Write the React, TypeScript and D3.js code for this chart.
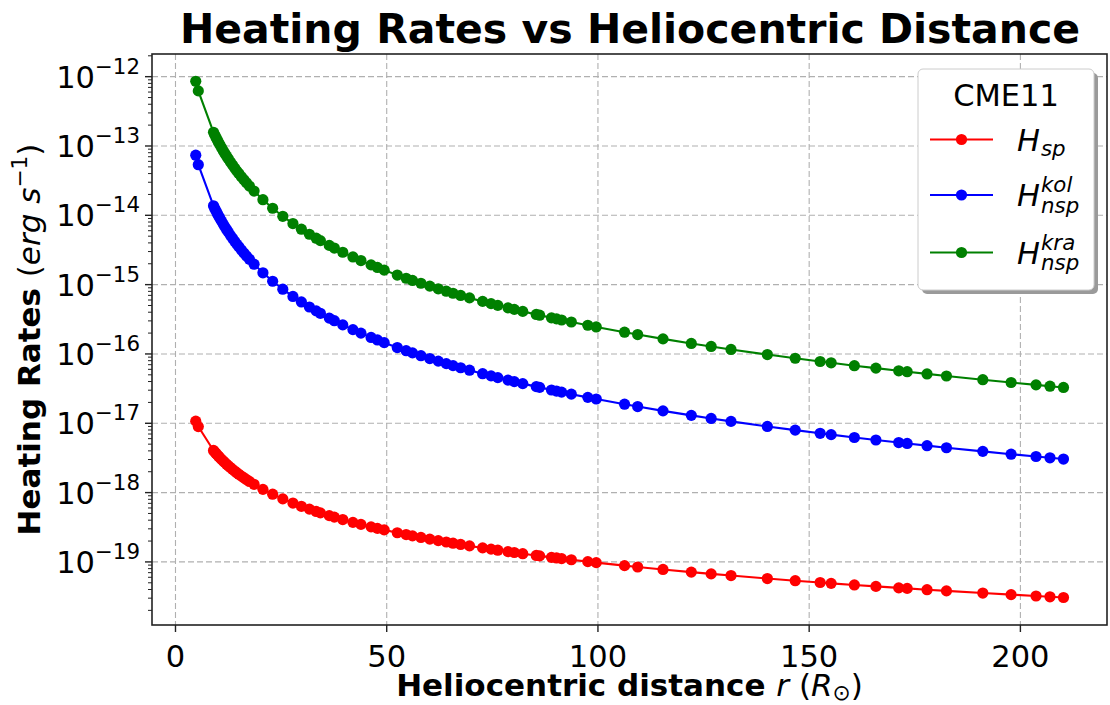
import React from "react";
import * as d3 from "d3";

// Heliocentric distance r (R_sun), shared by all three series
const rDistance = [
  4.8, 5.4, 9.0, 9.3, 9.6, 9.9, 10.2, 10.5, 10.9, 11.3, 11.7, 12.1, 12.5, 13.0, 13.5, 14.0, 14.5, 15.0,
  15.6, 16.2, 16.8, 17.5, 18.6, 20.7, 23.0, 25.4, 27.8, 29.8, 31.7, 33.3, 34.3, 36.4, 37.6, 39.6, 42.0,
  43.9, 46.3, 47.8, 49.4, 52.5, 54.6, 56.1, 58.1, 60.2, 62.2, 64.1, 65.7, 67.5, 69.6, 72.7, 74.7, 76.3,
  78.7, 80.2, 82.2, 85.4, 86.2, 89.0, 90.2, 91.4, 93.7, 97.6, 99.6, 106.3, 109.4, 115.4, 122.1, 126.8,
  131.5, 140.1, 146.7, 152.6, 155.2, 160.7, 165.8, 171.2, 173.2, 177.9, 182.5, 191.1, 197.8, 203.7,
  207.0, 210.2,
];

// log10 of heating rates (erg s^-1)
const logHsp = [
  -16.969, -17.048, -17.392, -17.414, -17.435, -17.456, -17.476, -17.496, -17.521, -17.545, -17.568,
  -17.591, -17.613, -17.639, -17.665, -17.689, -17.713, -17.736, -17.762, -17.787, -17.812, -17.839,
  -17.88, -17.953, -18.023, -18.09, -18.151, -18.198, -18.239, -18.272, -18.292, -18.332, -18.354,
  -18.389, -18.429, -18.459, -18.494, -18.516, -18.538, -18.579, -18.605, -18.624, -18.647, -18.671,
  -18.693, -18.713, -18.73, -18.748, -18.769, -18.798, -18.816, -18.831, -18.852, -18.864, -18.881,
  -18.907, -18.913, -18.934, -18.943, -18.952, -18.969, -18.996, -19.01, -19.054, -19.073, -19.109,
  -19.147, -19.173, -19.197, -19.24, -19.271, -19.297, -19.309, -19.332, -19.353, -19.375, -19.382,
  -19.401, -19.418, -19.449, -19.472, -19.492, -19.503, -19.513,
];

const logHnspKol = [
  -13.133, -13.27, -13.863, -13.901, -13.937, -13.973, -14.008, -14.042, -14.084, -14.127, -14.167,
  -14.205, -14.243, -14.289, -14.332, -14.375, -14.416, -14.454, -14.5, -14.544, -14.586, -14.633,
  -14.705, -14.829, -14.951, -15.066, -15.17, -15.25, -15.323, -15.379, -15.414, -15.483, -15.52,
  -15.581, -15.649, -15.7, -15.762, -15.798, -15.837, -15.908, -15.953, -15.985, -16.025, -16.066,
  -16.104, -16.139, -16.168, -16.199, -16.234, -16.285, -16.316, -16.341, -16.377, -16.399, -16.428,
  -16.471, -16.482, -16.52, -16.535, -16.551, -16.58, -16.626, -16.65, -16.725, -16.759, -16.821,
  -16.886, -16.93, -16.973, -17.046, -17.099, -17.145, -17.164, -17.205, -17.241, -17.278, -17.291,
  -17.323, -17.353, -17.405, -17.446, -17.479, -17.498, -17.516,
];

const logHnspKra = [
  -12.067, -12.205, -12.802, -12.84, -12.877, -12.913, -12.948, -12.982, -13.025, -13.068, -13.108,
  -13.147, -13.185, -13.231, -13.275, -13.318, -13.359, -13.398, -13.444, -13.488, -13.531, -13.578,
  -13.65, -13.775, -13.898, -14.014, -14.119, -14.2, -14.273, -14.33, -14.365, -14.434, -14.472,
  -14.533, -14.601, -14.653, -14.715, -14.752, -14.791, -14.862, -14.908, -14.94, -14.98, -15.022,
  -15.06, -15.095, -15.124, -15.156, -15.191, -15.242, -15.274, -15.299, -15.335, -15.357, -15.386,
  -15.43, -15.441, -15.479, -15.494, -15.51, -15.539, -15.586, -15.61, -15.686, -15.72, -15.782,
  -15.848, -15.892, -15.935, -16.009, -16.062, -16.109, -16.128, -16.169, -16.205, -16.243, -16.256,
  -16.288, -16.318, -16.371, -16.412, -16.446, -16.465, -16.483,
];

const xTicks = [0, 50, 100, 150, 200];
const yTickExponents = [-19, -18, -17, -16, -15, -14, -13, -12];
const legendTitle = "CME11";
const seriesNames = ["sp", "kol", "kra"];

const W = 1110;
const H = 705;
const M = { left: 152, right: 1107, top: 54, bottom: 625 };
const FONT = "DejaVu Sans, sans-serif";
const FS = 31; // labels, legend
const TFS = 30.5; // tick labels

const series = [
  { key: "sp", color: "#ff0000", values: logHsp, sub: "sp", sup: "" },
  { key: "kol", color: "#0000ff", values: logHnspKol, sub: "nsp", sup: "kol" },
  { key: "kra", color: "#008000", values: logHnspKra, sub: "nsp", sup: "kra" },
];

export default function App() {
  const x = d3.scaleLinear().domain([-5.56, 220.5]).range([M.left, M.right]);
  const y = d3
    .scaleLog()
    .domain([Math.pow(10, -19.91), Math.pow(10, -11.673)])
    .range([M.bottom, M.top]);

  const line = d3
    .line<[number, number]>()
    .x((d) => x(d[0]))
    .y((d) => y(d[1]));

  const minorTicks: number[] = [];
  for (let e = -20; e <= -12; e++) {
    for (let k = 2; k <= 9; k++) {
      const v = k * Math.pow(10, e);
      const py = y(v);
      if (py >= M.top && py <= M.bottom) minorTicks.push(v);
    }
  }

  const legend = { x: 918, y: 69, w: 176, h: 221 };
  const entryY = [139.5, 195, 252.5];

  return (
    <svg width={W} height={H} style={{ display: "block", position: "absolute", left: 0, top: 0 }}>
      <rect x={0} y={0} width={W} height={H} fill="#ffffff" />
      {/* grid */}
      <g stroke="#b0b0b0" strokeWidth={1.1} strokeDasharray="6,3">
        {xTicks.map((t) => (
          <line key={"gx" + t} x1={x(t)} x2={x(t)} y1={M.top} y2={M.bottom} />
        ))}
        {yTickExponents.map((e) => (
          <line key={"gy" + e} x1={M.left} x2={M.right} y1={y(Math.pow(10, e))} y2={y(Math.pow(10, e))} />
        ))}
      </g>

      {/* series */}
      {series.map((s) => {
        const pts: [number, number][] = rDistance.map((r, i) => [r, Math.pow(10, s.values[i])]);
        return (
          <g key={s.key}>
            <path d={line(pts) || ""} fill="none" stroke={s.color} strokeWidth={2.1} />
            {pts.map((p, i) => (
              <circle key={i} cx={x(p[0])} cy={y(p[1])} r={5.6} fill={s.color} />
            ))}
          </g>
        );
      })}

      {/* spines */}
      <rect
        x={M.left}
        y={M.top}
        width={M.right - M.left}
        height={M.bottom - M.top}
        fill="none"
        stroke="#222"
        strokeWidth={1.6}
      />

      {/* x ticks */}
      {xTicks.map((t) => (
        <g key={"xt" + t}>
          <line x1={x(t)} x2={x(t)} y1={M.bottom} y2={M.bottom + 7} stroke="#222" strokeWidth={1.4} />
          <text x={x(t)} y={667} textAnchor="middle" fontFamily={FONT} fontSize={TFS} fill="#000">
            {t}
          </text>
        </g>
      ))}

      {/* y ticks */}
      {minorTicks.map((v, i) => (
        <line key={"ym" + i} x1={M.left - 4} x2={M.left} y1={y(v)} y2={y(v)} stroke="#222" strokeWidth={1} />
      ))}
      {yTickExponents.map((e) => {
        const py = y(Math.pow(10, e));
        return (
          <g key={"yt" + e}>
            <line x1={M.left - 7} x2={M.left} y1={py} y2={py} stroke="#222" strokeWidth={1.4} />
            <text x={140} y={py + 11} textAnchor="end" fontFamily={FONT} fontSize={TFS} fill="#000">
              10
              <tspan fontSize={TFS * 0.7} dy={-14}>
                {"\u2212" + Math.abs(e)}
              </tspan>
            </text>
          </g>
        );
      })}

      {/* title */}
      <text x={630} y={43} textAnchor="middle" fontFamily={FONT} fontSize={41} fontWeight="bold" fill="#000">
        Heating Rates vs Heliocentric Distance
      </text>

      {/* x label */}
      <text x={629.5} y={696} textAnchor="middle" fontFamily={FONT} fontSize={FS} fill="#000">
        <tspan fontWeight="bold">Heliocentric distance </tspan>
        <tspan fontStyle="italic">r</tspan>
        <tspan> (</tspan>
        <tspan fontStyle="italic">R</tspan>
        <tspan fontSize={FS * 0.7} dy={4}>{"\u2299"}</tspan>
        <tspan dy={-4}>)</tspan>
      </text>

      {/* y label */}
      <text
        transform={`translate(40, ${(M.top + M.bottom) / 2}) rotate(-90)`}
        textAnchor="middle"
        fontFamily={FONT}
        fontSize={FS}
        fill="#000"
      >
        <tspan fontWeight="bold">Heating Rates </tspan>
        <tspan>(</tspan>
        <tspan fontStyle="italic">erg</tspan>
        <tspan> </tspan>
        <tspan fontStyle="italic">s</tspan>
        <tspan fontSize={FS * 0.7} dy={-13}>{"\u22121"}</tspan>
        <tspan dy={13}>)</tspan>
      </text>

      {/* legend */}
      <rect x={legend.x + 4} y={legend.y + 4} width={legend.w} height={legend.h} rx={5} fill="#9a9a9a" />
      <rect
        x={legend.x}
        y={legend.y}
        width={legend.w}
        height={legend.h}
        rx={5}
        fill="#ffffff"
        stroke="#cccccc"
        strokeWidth={1}
      />
      <text x={1006} y={106} textAnchor="middle" fontFamily={FONT} fontSize={30.5} fill="#000">
        {legendTitle}
      </text>
      {series.map((s, i) => {
        const ey = entryY[i];
        return (
          <g key={"lg" + seriesNames[i]}>
            <line x1={930} x2={993} y1={ey} y2={ey} stroke={s.color} strokeWidth={2.1} />
            <circle cx={961.5} cy={ey} r={5.6} fill={s.color} />
            <text x={1017} y={ey + 11} fontFamily={FONT} fontSize={30.5} fontStyle="italic" fill="#000">
              H
            </text>
            {s.sup ? (
              <text x={1041} y={ey - 3} fontFamily={FONT} fontSize={30.5 * 0.7} fontStyle="italic" fill="#000">
                {s.sup}
              </text>
            ) : null}
            <text
              x={1041}
              y={ey + (s.sup ? 17.5 : 16)}
              fontFamily={FONT}
              fontSize={30.5 * 0.7}
              fontStyle="italic"
              fill="#000"
            >
              {s.sub}
            </text>
          </g>
        );
      })}
    </svg>
  );
}
